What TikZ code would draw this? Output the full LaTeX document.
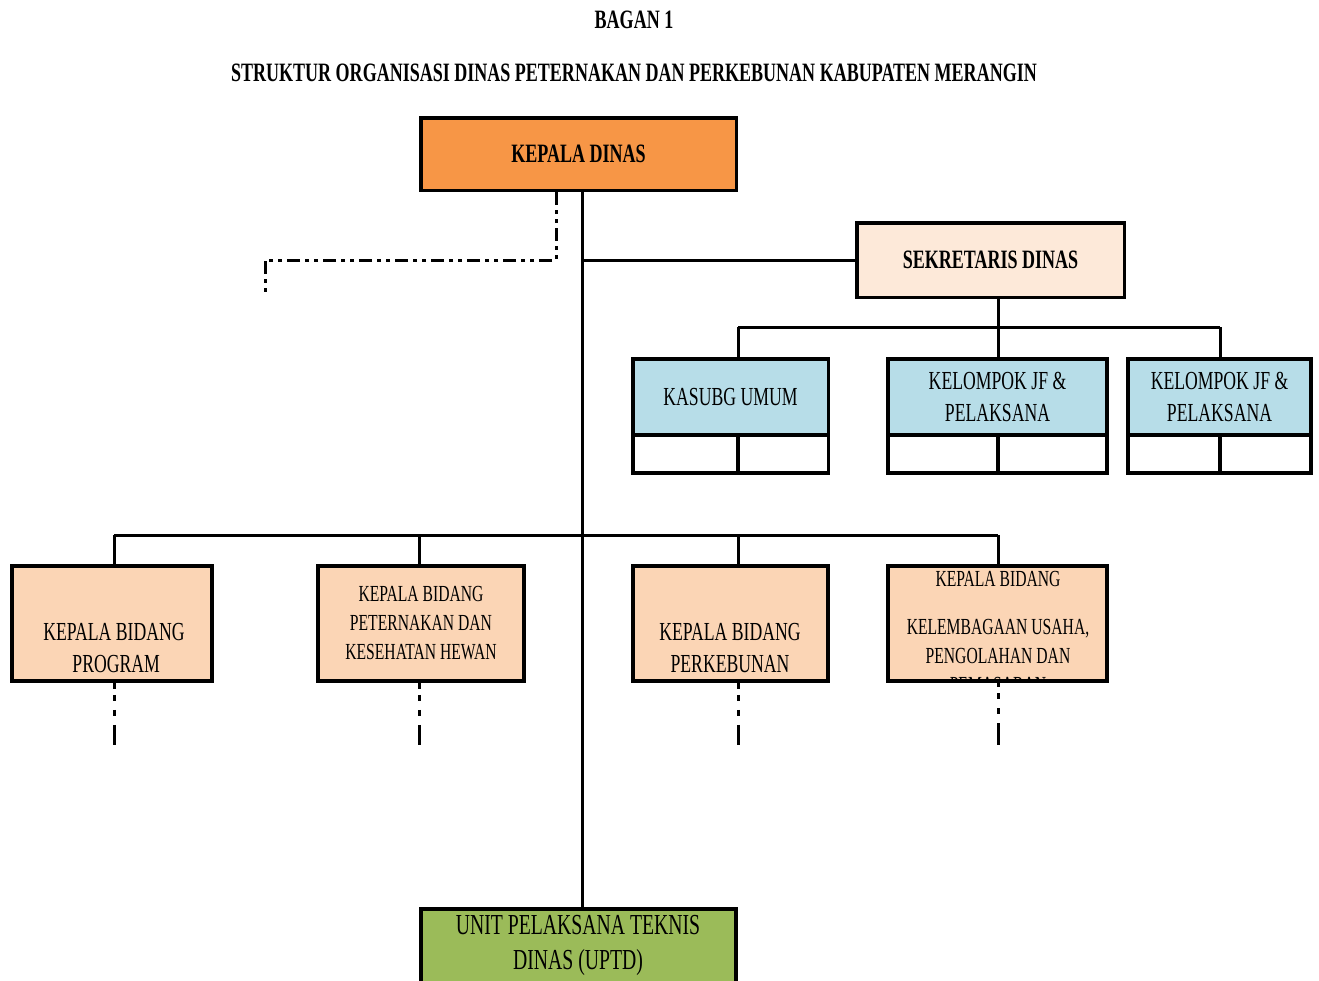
\documentclass[tikz,border=0pt]{standalone}
\usepackage{fontspec}
\setmainfont{Liberation Serif}[FakeStretch=0.68]
\definecolor{kdcol}{HTML}{F79646}
\definecolor{sekcol}{HTML}{FDE9D9}
\definecolor{bluecol}{HTML}{B7DDE8}
\definecolor{bidcol}{HTML}{FBD5B5}
\definecolor{uptdcol}{HTML}{9BBB59}
\begin{document}
\begin{tikzpicture}[x=1pt,y=-1pt,
  box/.style={draw, line width=3.5pt, inner sep=0pt, align=center},
  cell/.style={draw, line width=3.5pt, inner sep=0pt, fill=white},
  conn/.style={line width=3pt},
  dashconn/.style={line width=3pt, dash pattern=on 6pt off 6pt on 6pt off 9pt on 6pt off 9pt on 40pt off 1pt},
  dashdotconn/.style={line width=3pt, dash pattern=on 13pt off 5pt on 4pt off 5pt on 4pt off 5pt},
  tbold/.style={font=\fontsize{26.5}{30}\selectfont\bfseries, inner sep=0pt},
  treg/.style={font=\fontsize{26}{32}\selectfont},
  tsmall/.style={font=\fontsize{23}{29}\selectfont}
]
\clip (0,0) rectangle (1319,980);
\fill[white] (0,0) rectangle (1319,980);

% titles
\node[tbold] (t1) at (634,20) {BAGAN 1};
\node[tbold] (t2) at (634,73) {STRUKTUR ORGANISASI DINAS PETERNAKAN DAN PERKEBUNAN KABUPATEN MERANGIN};

% Kepala dinas
\node[box, fill=kdcol, minimum width=315.5pt, minimum height=72.5pt, tbold] (kd) at (578.5,154) {KEPALA DINAS};
% Sekretaris
\node[box, fill=sekcol, minimum width=267.5pt, minimum height=74.5pt, tbold] (sek) at (990.5,260) {SEKRETARIS DINAS};

% Kasubg umum
\node[box, fill=bluecol, minimum width=195.5pt, minimum height=76pt, treg] (kas) at (730.5,397) {KASUBG UMUM};
\node[cell, minimum width=105pt, minimum height=38pt] (kasA) at (685.5,454) {};
\node[cell, minimum width=90.5pt, minimum height=38pt] (kasB) at (783,454) {};
% Kelompok 1
\node[box, fill=bluecol, minimum width=219pt, minimum height=76pt, treg] (kj1) at (997.5,397) {KELOMPOK JF \&\\PELAKSANA};
\node[cell, minimum width=110pt, minimum height=38pt] (kj1A) at (943,454) {};
\node[cell, minimum width=109pt, minimum height=38pt] (kj1B) at (1052.5,454) {};
% Kelompok 2
\node[box, fill=bluecol, minimum width=183pt, minimum height=76pt, treg] (kj2) at (1219.5,397) {KELOMPOK JF \&\\PELAKSANA};
\node[cell, minimum width=92pt, minimum height=38pt] (kj2A) at (1174,454) {};
\node[cell, minimum width=91pt, minimum height=38pt] (kj2B) at (1265.5,454) {};

% Bidang boxes
\node[box, fill=bidcol, minimum width=200pt, minimum height=115pt] (bp) at (112,623.5) {};
\node[treg, align=center] (bpT) at (114,648) {KEPALA BIDANG\\\ PROGRAM};
\node[box, fill=bidcol, minimum width=206pt, minimum height=115pt, tsmall] (bpk) at (421,623.5) {KEPALA BIDANG\\PETERNAKAN DAN\\KESEHATAN HEWAN};
\node[box, fill=bidcol, minimum width=195pt, minimum height=115pt] (bkb) at (730.5,623.5) {};
\node[treg, align=center] (bkbT) at (730,648) {KEPALA BIDANG\\PERKEBUNAN};
\node[fill=bidcol, inner sep=0pt, outer sep=0pt, minimum width=219pt, minimum height=115pt] (bkl) at (997.5,623.5) {};
\begin{scope}
  \clip (bkl.south west) rectangle (bkl.north east);
  \node[tsmall, align=center, anchor=north, inner sep=0pt] (bklT) at (998,571.5)
    {KEPALA BIDANG\\[19pt]KELEMBAGAAN USAHA,\\PENGOLAHAN DAN\\PEMASARAN};
\end{scope}
\draw[line width=3.5pt] (bkl.south west) rectangle (bkl.north east);

% UPTD
\node[box, fill=uptdcol, minimum width=315pt, minimum height=90pt] (uptd) at (578.5,954) {};
\node[font=\fontsize{29}{35}\selectfont, align=center] (uptdT) at (578,945) {UNIT PELAKSANA TEKNIS\\DINAS (UPTD)};

% coordinates
\coordinate (m0) at (582,260);
\coordinate (d0) at (265,260);
\coordinate (d1) at (265,292);
\coordinate (s1) at (738,327);
\coordinate (s2) at (998,327);
\coordinate (s3) at (1220,327);
\coordinate (b1) at (114,535);
\coordinate (b2) at (419,535);
\coordinate (b3) at (738,535);
\coordinate (b4) at (998,535);
\coordinate (e1) at (114,745);
\coordinate (e2) at (419,745);
\coordinate (e3) at (738,745);
\coordinate (e4) at (998,745);

% main connectors
\draw[conn] ([xshift=3.5pt]kd.south) -- ([xshift=3.5pt]uptd.north);
\draw[conn] (m0) -- (sek.west);
\draw[dashdotconn] ([xshift=-22.5pt]kd.south) |- (d0) -- (d1);

\draw[conn] ([xshift=7.5pt]sek.south) -- (s2);
\draw[conn] (s1) -- (s3);
\draw[conn] (s1) -- (s1 |- kas.north);
\draw[conn] (s2) -- (s2 |- kj1.north);
\draw[conn] (s3) -- (s3 |- kj2.north);

\draw[conn] (b1) -- (b4);
\draw[conn] (b1) -- (b1 |- bp.north);
\draw[conn] (b2) -- (b2 |- bpk.north);
\draw[conn] (b3) -- (b3 |- bkb.north);
\draw[conn] (b4) -- (b4 |- bkl.north);

\draw[dashconn] (b1 |- bp.south) -- (e1);
\draw[dashconn] (b2 |- bpk.south) -- (e2);
\draw[dashconn] (b3 |- bkb.south) -- (e3);
\draw[dashconn] (b4 |- bkl.south) -- (e4);
\end{tikzpicture}
\end{document}
